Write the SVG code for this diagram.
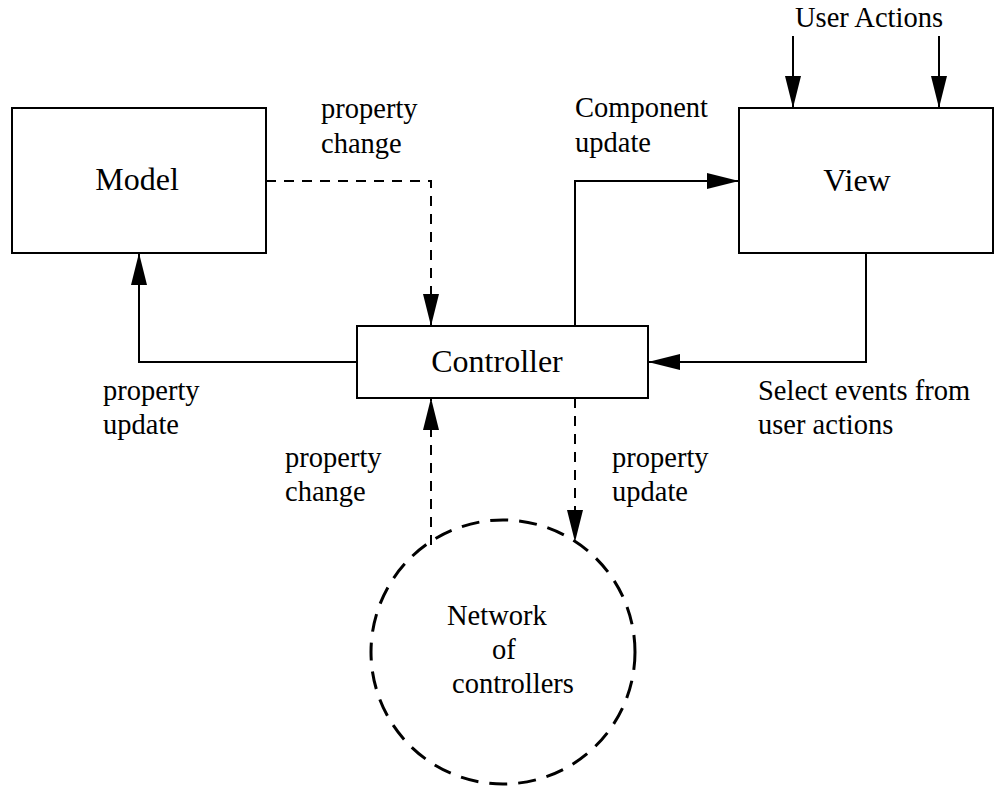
<svg xmlns="http://www.w3.org/2000/svg" width="995" height="788" viewBox="0 0 995 788">
<style>
.box{fill:#fff;stroke:#000;stroke-width:2}
.node{font-family:"Liberation Serif","Times New Roman",serif;font-size:32px;fill:#000;text-anchor:middle}
.lbl{font-family:"Liberation Serif","Times New Roman",serif;font-size:28.5px;fill:#000}
.line{fill:none;stroke:#000;stroke-width:2}
.dash{fill:none;stroke:#000;stroke-width:2;stroke-dasharray:10,8}
</style>
<defs>
<marker id="arr" markerUnits="userSpaceOnUse" markerWidth="32" markerHeight="16" refX="32" refY="8" orient="auto">
<path d="M0,0 L32,8 L0,16 z" fill="#000"/>
</marker>
</defs>
<rect width="995" height="788" fill="#fff"/>
<g id="connectors">
<path class="dash" d="M266,181 H431 V326" marker-end="url(#arr)"/>
<path class="line" d="M357,362 H139 V253" marker-end="url(#arr)"/>
<path class="line" d="M575,326 V181 H739" marker-end="url(#arr)"/>
<path class="line" d="M866,253 V362 H648" marker-end="url(#arr)"/>
<path class="line" d="M793,36 V108" marker-end="url(#arr)"/>
<path class="line" d="M939,36 V108" marker-end="url(#arr)"/>
<path class="dash" d="M431,545 V398" marker-end="url(#arr)"/>
<path class="dash" d="M575,398 V542" marker-end="url(#arr)"/>
</g>
<g id="model">
<rect class="box" x="12" y="108" width="254" height="145"/>
<text class="node" x="137" y="190">Model</text>
</g>
<g id="view">
<rect class="box" x="739" y="108" width="254" height="145"/>
<text class="node" x="857" y="191">View</text>
</g>
<g id="controller">
<rect class="box" x="357" y="326" width="291" height="72"/>
<text class="node" x="497" y="372">Controller</text>
</g>
<g id="network">
<circle cx="503" cy="652" r="132" fill="none" stroke="#000" stroke-width="3" stroke-dasharray="18,11"/>
<text class="lbl" x="447" y="625">Network</text>
<text class="lbl" x="492" y="659">of</text>
<text class="lbl" x="452" y="693">controllers</text>
</g>
<g id="labels">
<text class="lbl" x="795" y="27">User Actions</text>
<text class="lbl" x="321" y="118">property</text>
<text class="lbl" x="321" y="153">change</text>
<text class="lbl" x="575" y="117">Component</text>
<text class="lbl" x="575" y="152">update</text>
<text class="lbl" x="103" y="400">property</text>
<text class="lbl" x="103" y="434">update</text>
<text class="lbl" x="758" y="400">Select events from</text>
<text class="lbl" x="758" y="434">user actions</text>
<text class="lbl" x="285" y="467">property</text>
<text class="lbl" x="285" y="501">change</text>
<text class="lbl" x="612" y="467">property</text>
<text class="lbl" x="612" y="501">update</text>
</g>
</svg>
